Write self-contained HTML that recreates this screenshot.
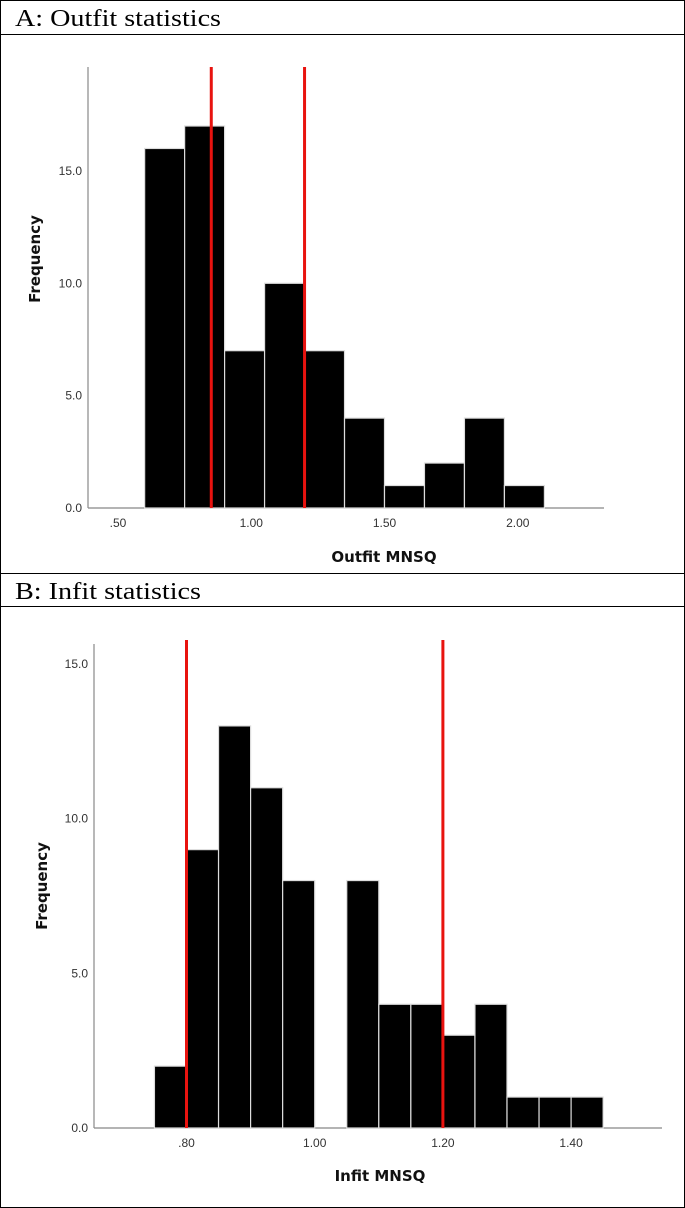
<!DOCTYPE html>
<html><head><meta charset="utf-8"><style>
html,body{margin:0;padding:0;background:#fff;}
svg{display:block;}
.tick{font-family:"Liberation Sans",sans-serif;font-size:12px;fill:#333;}
.atitle{font-family:"DejaVu Sans","Liberation Sans",sans-serif;font-size:15px;font-weight:bold;fill:#111;}
.hdr{font-family:"Liberation Serif",serif;font-size:24px;fill:#000;}
</style></head><body>
<svg id="fig" width="685" height="1208" viewBox="0 0 685 1208">
<rect x="0.5" y="0.5" width="684" height="1207" fill="none" stroke="#000"/>
<line x1="0" y1="34.5" x2="685" y2="34.5" stroke="#000"/>
<line x1="0" y1="573.5" x2="685" y2="573.5" stroke="#000"/>
<line x1="0" y1="606.5" x2="685" y2="606.5" stroke="#000"/>
<text class="hdr" x="15" y="26" textLength="206" lengthAdjust="spacingAndGlyphs">A: Outfit statistics</text>
<text class="hdr" x="15" y="599" textLength="186" lengthAdjust="spacingAndGlyphs">B: Infit statistics</text>
<g id="chartA"></g>
<g id="chartB"></g>
</svg>
<script>
// Panel A: Outfit MNSQ
const outfitBinStarts=[0.60,0.75,0.90,1.05,1.20,1.35,1.50,1.65,1.80,1.95];
const outfitBinWidth=0.15;
const outfitCounts=[16,17,7,10,7,4,1,2,4,1];
const outfitXTicks=[0.5,1.0,1.5,2.0];
const outfitXTickLabels=[".50","1.00","1.50","2.00"];
const outfitYTicks=[0,5,10,15];
const outfitYTickLabels=["0.0","5.0","10.0","15.0"];
const outfitCutoffs=[0.85,1.20];
// Panel B: Infit MNSQ
const infitBinStarts=[0.75,0.80,0.85,0.90,0.95,1.00,1.05,1.10,1.15,1.20,1.25,1.30,1.35,1.40];
const infitBinWidth=0.05;
const infitCounts=[2,9,13,11,8,0,8,4,4,3,4,1,1,1];
const infitXTicks=[0.8,1.0,1.2,1.4];
const infitXTickLabels=[".80","1.00","1.20","1.40"];
const infitYTicks=[0,5,10,15];
const infitYTickLabels=["0.0","5.0","10.0","15.0"];
const infitCutoffs=[0.80,1.20];

const NS="http://www.w3.org/2000/svg";
function mk(tag,attrs,parent){const e=document.createElementNS(NS,tag);for(const k in attrs)e.setAttribute(k,attrs[k]);parent.appendChild(e);return e;}

function draw(g,cfg){
  const xs=v=>cfg.x0px+(v-cfg.x0v)*cfg.xScale;
  const ys=v=>cfg.base-v*cfg.yScale;
  const ax=mk('line',{x1:cfg.axX,y1:cfg.axTop,x2:cfg.axX,y2:cfg.base,stroke:'#888','stroke-width':1.2},g);
  
  
  const bx=mk('line',{x1:cfg.axX,y1:cfg.base,x2:cfg.axRight,y2:cfg.base,stroke:'#888','stroke-width':1.2},g);
  
  
  cfg.starts.forEach((s,i)=>{
    if(cfg.counts[i]<=0)return;
    const x1=xs(s),x2=xs(s+cfg.w);
    const r=mk('rect',{x:x1,y:ys(cfg.counts[i]),width:x2-x1,height:cfg.base-ys(cfg.counts[i]),fill:'#000',stroke:'#ddd','stroke-width':1.2},g);
    
    
  });
  cfg.cut.forEach(c=>{
    const l=mk('line',{x1:xs(c),y1:cfg.redTop,x2:xs(c),y2:cfg.base,stroke:'#e8130f','stroke-width':3},g);
    
    
  });
  cfg.yt.forEach((v,i)=>{
    const t=mk('text',{x:cfg.axX-6,y:ys(v)+4,'text-anchor':'end',class:'tick'},g);
    t.textContent=cfg.ytl[i];
    
    
  });
  cfg.xt.forEach((v,i)=>{
    const t=mk('text',{x:xs(v),y:cfg.base+19,'text-anchor':'middle',class:'tick'},g);
    t.textContent=cfg.xtl[i];
    
    
  });
  const xt=mk('text',{x:cfg.xtX,y:cfg.xtY,'text-anchor':'middle',class:'atitle'},g);
  xt.textContent=cfg.xTitle;
  
  
  const yt=mk('text',{x:0,y:0,'text-anchor':'middle',class:'atitle',transform:`translate(${cfg.ytX},${cfg.ytY}) rotate(-90)`},g);
  yt.textContent='Frequency';
  
  
}
draw(document.getElementById('chartA'),{x0px:118,x0v:0.5,xScale:266.5,base:508,yScale:22.47,axX:88,axTop:67,axRight:604,redTop:67,
  starts:outfitBinStarts,w:outfitBinWidth,counts:outfitCounts,cut:outfitCutoffs,xt:outfitXTicks,xtl:outfitXTickLabels,yt:outfitYTicks,ytl:outfitYTickLabels,
  xTitle:'Outfit MNSQ',xtX:384,xtY:562,ytX:40,ytY:259});
draw(document.getElementById('chartB'),{x0px:186.5,x0v:0.8,xScale:641,base:1128,yScale:30.93,axX:94,axTop:644,axRight:662,redTop:640,
  starts:infitBinStarts,w:infitBinWidth,counts:infitCounts,cut:infitCutoffs,xt:infitXTicks,xtl:infitXTickLabels,yt:infitYTicks,ytl:infitYTickLabels,
  xTitle:'Infit MNSQ',xtX:380,xtY:1181,ytX:47,ytY:886});
</script>
</body></html>
